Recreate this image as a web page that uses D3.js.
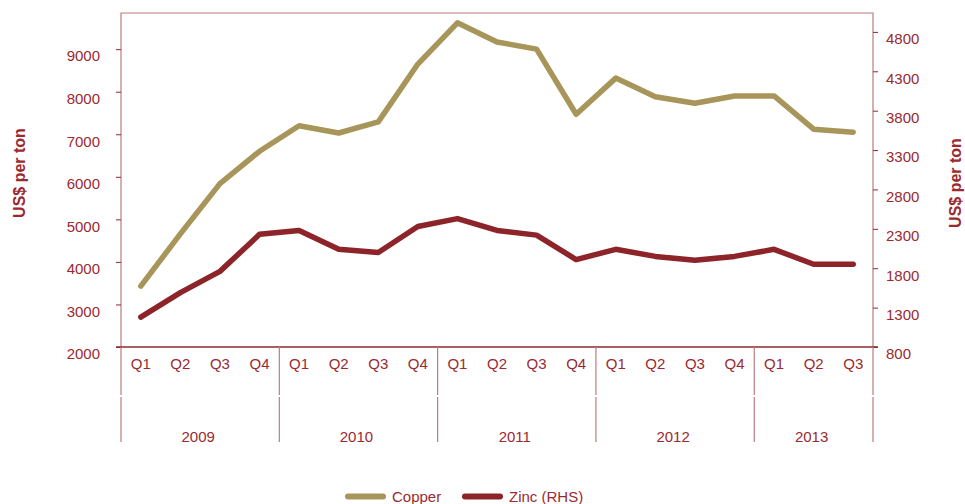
<!DOCTYPE html>
<html>
<head>
<meta charset="utf-8">
<script src="https://cdn.jsdelivr.net/npm/d3@7"></script>
<style>
  html, body { margin: 0; padding: 0; background: #fff; }
  svg { display: block; font-family: "Liberation Sans", Arial, sans-serif; }
</style>
</head>
<body>
<svg id="chart" width="965" height="504"></svg>
<script>
// Quarterly average prices, US$ per ton
const years = ["2009", "2010", "2011", "2012", "2013"];
const quartersPerYear = [4, 4, 4, 4, 3];
const quarterLabels = ["Q1", "Q2", "Q3", "Q4"];
const copper = [3430, 4660, 5840, 6600, 7200, 7030, 7290, 8650, 9620, 9170, 9000,
                7470, 8320, 7880, 7730, 7900, 7900, 7120, 7050];
const zinc = [1180, 1490, 1760, 2230, 2280, 2040, 2000, 2330, 2430, 2280, 2220,
              1910, 2040, 1950, 1900, 1950, 2040, 1850, 1850];
const leftTicks = [2000, 3000, 4000, 5000, 6000, 7000, 8000, 9000];
const rightTicks = [800, 1300, 1800, 2300, 2800, 3300, 3800, 4300, 4800];
const seriesNames = ["Copper", "Zinc (RHS)"];
const axisTitle = "US$ per ton";

const textColor = "#9a2a30";
const frameColor = "#bb7b7f";
const axisColor = "#8c2a2f";
const copperColor = "#a8955a";
const zincColor = "#8c2429";

const margin = { left: 121, right: 873, top: 13, bottom: 347 };

// Category keys: one per quarter
const cats = [];
years.forEach((y, i) => {
  for (let q = 0; q < quartersPerYear[i]; q++) cats.push({ key: y + " " + quarterLabels[q], q: quarterLabels[q], year: y });
});

const x = d3.scaleBand().domain(cats.map(d => d.key)).range([margin.left, margin.right]).padding(0);
const yL = d3.scaleLinear().domain([2000, 9850]).range([margin.bottom, margin.top]);
const yR = d3.scaleLinear().domain([800, 5040]).range([margin.bottom, margin.top]);

const svg = d3.select("#chart");
const cx = d => x(d.key) + x.bandwidth() / 2;

// Frame: top, left and right edges
svg.append("path")
  .attr("d", `M${margin.left},${margin.bottom}V${margin.top}H${margin.right}V${margin.bottom}`)
  .attr("fill", "none").attr("stroke", frameColor).attr("stroke-width", 1.2);

// Left axis
const leftAxis = d3.axisLeft(yL).tickValues(leftTicks).tickSize(5).tickFormat(d3.format("d"));
const gL = svg.append("g").attr("transform", `translate(${margin.left},0)`).call(leftAxis);
gL.select(".domain").remove();
gL.selectAll(".tick line").attr("stroke", axisColor);
gL.selectAll(".tick text").attr("fill", textColor).attr("font-size", 15)
  .attr("font-family", "Liberation Sans, Arial, sans-serif")
  .attr("x", -21).attr("dy", "0.32em").attr("y", 7);

// Right axis
const rightAxis = d3.axisRight(yR).tickValues(rightTicks).tickSize(5).tickFormat(d3.format("d"));
const gR = svg.append("g").attr("transform", `translate(${margin.right},0)`).call(rightAxis);
gR.select(".domain").remove();
gR.selectAll(".tick line").attr("stroke", axisColor);
gR.selectAll(".tick text").attr("fill", textColor).attr("font-size", 15)
  .attr("font-family", "Liberation Sans, Arial, sans-serif")
  .attr("x", 13).attr("dy", "0.32em").attr("y", 7);

// Bottom axis with quarter labels
const bottomAxis = d3.axisBottom(x).tickSize(0).tickFormat(k => cats.find(c => c.key === k).q);
const gB = svg.append("g").attr("transform", `translate(0,${margin.bottom})`).call(bottomAxis);
gB.select(".domain").remove();
gB.selectAll(".tick text").attr("fill", textColor).attr("font-size", 15)
  .attr("font-family", "Liberation Sans, Arial, sans-serif").attr("y", 11);
svg.append("line")
  .attr("x1", margin.left - 5).attr("x2", margin.right + 5)
  .attr("y1", margin.bottom).attr("y2", margin.bottom)
  .attr("stroke", axisColor).attr("stroke-width", 1.3);

// Year group separators and labels
const groups = [];
let idx = 0;
years.forEach((y, i) => {
  const first = cats[idx], last = cats[idx + quartersPerYear[i] - 1];
  groups.push({ year: y, x0: x(first.key), x1: x(last.key) + x.bandwidth() });
  idx += quartersPerYear[i];
});
const bounds = [groups[0].x0].concat(groups.map(g => g.x1));
bounds.forEach(b => {
  svg.append("line").attr("x1", b).attr("x2", b).attr("y1", margin.bottom).attr("y2", 395)
    .attr("stroke", frameColor).attr("stroke-width", 1.2);
  svg.append("line").attr("x1", b).attr("x2", b).attr("y1", 397).attr("y2", 442)
    .attr("stroke", frameColor).attr("stroke-width", 1.2);
});
svg.selectAll(".year").data(groups).join("text")
  .attr("x", d => (d.x0 + d.x1) / 2 - 2).attr("y", 442)
  .attr("text-anchor", "middle").attr("fill", textColor).attr("font-size", 15)
  .text(d => d.year);

// Axis titles
svg.append("text").attr("transform", "translate(25,173) rotate(-90)")
  .attr("text-anchor", "middle").attr("fill", textColor).attr("font-size", 16)
  .attr("font-weight", "bold").text(axisTitle);
svg.append("text").attr("transform", "translate(961,183) rotate(-90)")
  .attr("text-anchor", "middle").attr("fill", textColor).attr("font-size", 16)
  .attr("font-weight", "bold").text(axisTitle);

// Series lines
const lineL = d3.line().x((d, i) => cx(cats[i])).y(d => yL(d));
const lineR = d3.line().x((d, i) => cx(cats[i])).y(d => yR(d));
svg.append("path").datum(copper).attr("d", lineL)
  .attr("fill", "none").attr("stroke", copperColor).attr("stroke-width", 5.5)
  .attr("stroke-linejoin", "round").attr("stroke-linecap", "round");
svg.append("path").datum(zinc).attr("d", lineR)
  .attr("fill", "none").attr("stroke", zincColor).attr("stroke-width", 5.5)
  .attr("stroke-linejoin", "round").attr("stroke-linecap", "round");

// Legend
const legend = [
  { name: seriesNames[0], color: copperColor, x: 348 },
  { name: seriesNames[1], color: zincColor, x: 465 }
];
legend.forEach(l => {
  svg.append("line").attr("x1", l.x).attr("x2", l.x + 35).attr("y1", 496.5).attr("y2", 496.5)
    .attr("stroke", l.color).attr("stroke-width", 6).attr("stroke-linecap", "round");
  svg.append("text").attr("x", l.x + 44).attr("y", 502).attr("fill", textColor)
    .attr("font-size", 15).text(l.name);
});
</script>
</body>
</html>
